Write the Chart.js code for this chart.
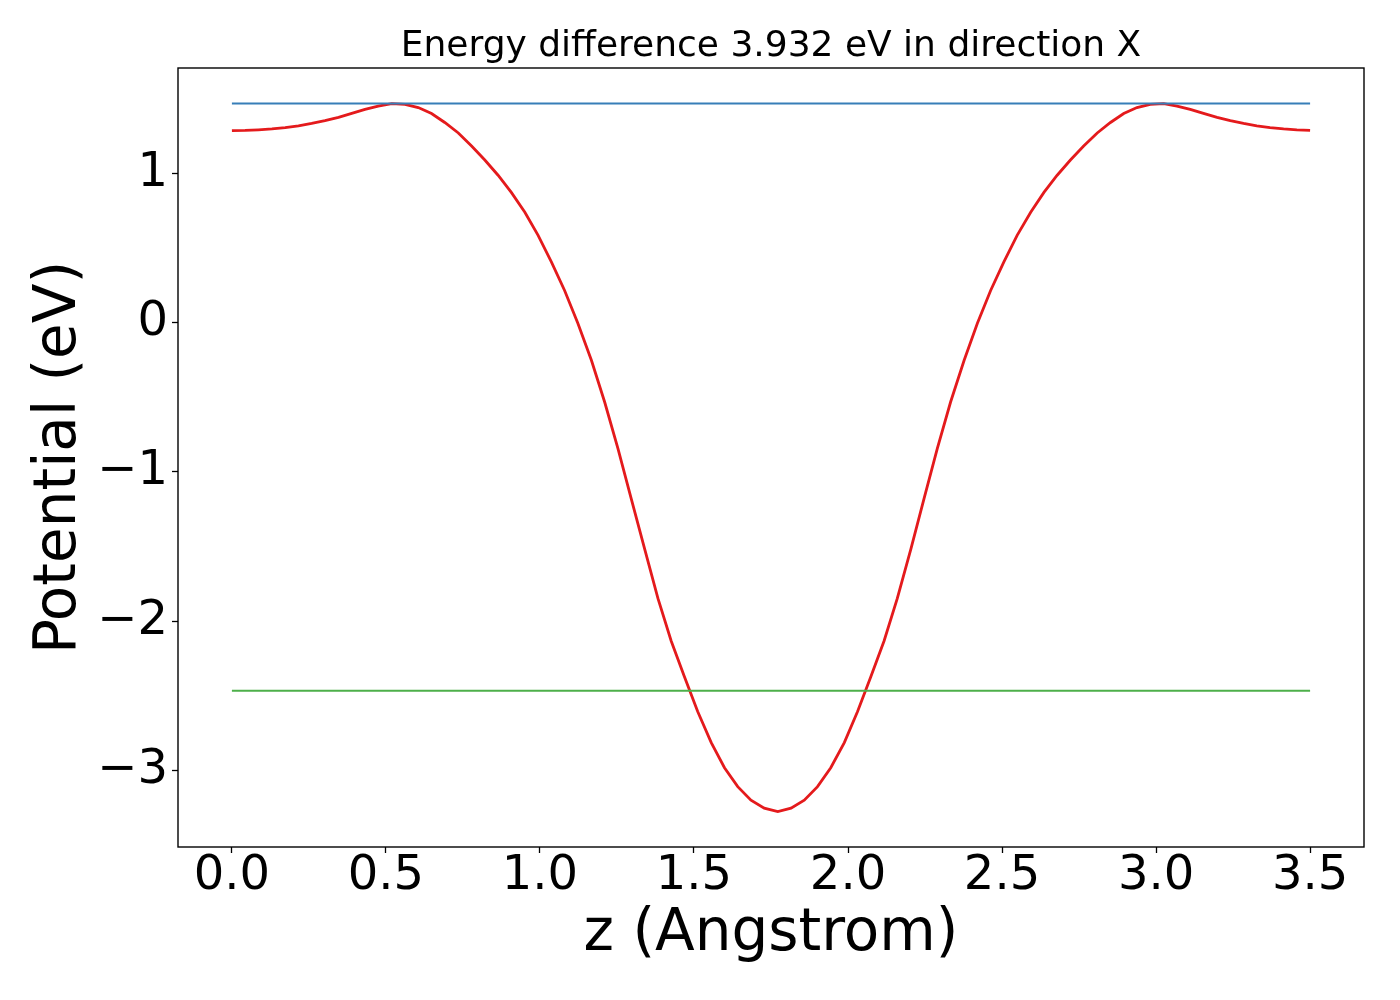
<!DOCTYPE html>
<html>
<head>
<meta charset="utf-8">
<script src="https://cdn.jsdelivr.net/npm/chart.js@4.4.0/dist/chart.umd.min.js"></script>
<style>
  body { margin: 0; background: #fff; }
  canvas { display: block; }
</style>
</head>
<body>
<canvas id="myChart" width="1400" height="1000"></canvas>
<script>
// positions along z (Angstrom)
const z = [
  0.000, 0.043, 0.086, 0.130, 0.173, 0.216, 0.259, 0.302, 0.346, 0.389,
  0.432, 0.475, 0.519, 0.562, 0.605, 0.648, 0.691, 0.735, 0.778, 0.821,
  0.864, 0.907, 0.951, 0.994, 1.037, 1.080, 1.123, 1.167, 1.210, 1.253,
  1.296, 1.340, 1.383, 1.426, 1.469, 1.512, 1.556, 1.599, 1.642, 1.685,
  1.728, 1.772, 1.815, 1.858, 1.901, 1.944, 1.988, 2.031, 2.074, 2.117,
  2.160, 2.204, 2.247, 2.290, 2.333, 2.377, 2.420, 2.463, 2.506, 2.549,
  2.593, 2.636, 2.679, 2.722, 2.765, 2.809, 2.852, 2.895, 2.938, 2.981,
  3.025, 3.068, 3.111, 3.154, 3.198, 3.241, 3.284, 3.327, 3.370, 3.414,
  3.457, 3.500
];
// potential (eV)
const potential = [
  1.284, 1.286, 1.290, 1.296, 1.305, 1.317, 1.333, 1.352, 1.374, 1.400,
  1.427, 1.449, 1.466, 1.461, 1.439, 1.399, 1.339, 1.269, 1.181, 1.088,
  0.986, 0.871, 0.738, 0.583, 0.405, 0.214, -0.006, -0.253, -0.533, -0.843,
  -1.178, -1.518, -1.848, -2.133, -2.373, -2.606, -2.814, -2.982, -3.109, -3.199,
  -3.253, -3.276, -3.253, -3.199, -3.109, -2.982, -2.814, -2.606, -2.373, -2.133,
  -1.848, -1.518, -1.178, -0.843, -0.533, -0.253, -0.006, 0.214, 0.405, 0.583,
  0.738, 0.871, 0.986, 1.088, 1.181, 1.269, 1.339, 1.399, 1.439, 1.461,
  1.466, 1.449, 1.427, 1.400, 1.374, 1.352, 1.333, 1.317, 1.305, 1.296,
  1.290, 1.286
];
// the two reference levels (eV)
const levelTop = 1.466;
const levelBottom = -2.466;
const levelSpan = [0.0, 3.5];

const xTicks = [0.0, 0.5, 1.0, 1.5, 2.0, 2.5, 3.0, 3.5];
const yTicks = [-3, -2, -1, 0, 1];
const xRange = [-0.175, 3.675];
const yRange = [-3.513, 1.704];

const titleText = 'Energy difference 3.932 eV in direction X';
const xLabel = 'z (Angstrom)';
const yLabel = 'Potential (eV)';

const FONT = "'DejaVu Sans', 'Liberation Sans', sans-serif";

/**
 * box around the plot area, like matplotlib spines
 */
const framePlugin = {
  id: 'frame',
  afterDatasetsDraw(chart) {
    const a = chart.chartArea;
    const c = chart.ctx;
    c.save();
    c.strokeStyle = '#000';
    c.lineWidth = 1.4;
    c.strokeRect(a.left, a.top, a.right - a.left, a.bottom - a.top);
    c.restore();
  }
};

function levelLine(y) {
  return levelSpan.map(x => ({x: x, y: y}));
}

function fmtY(v) {
  return v < 0 ? '\u2212' + Math.abs(v) : String(v);
}

function generate_config() {
  return {
    type: 'scatter',
    data: {
      datasets: [
        {
          data: levelLine(levelTop),
          showLine: true,
          borderColor: '#377eb8',
          borderWidth: 2,
          pointRadius: 0,
          order: 0
        },
        {
          data: levelLine(levelBottom),
          showLine: true,
          borderColor: '#4daf4a',
          borderWidth: 2,
          pointRadius: 0,
          order: 0
        },
        {
          data: z.map((x, i) => ({x: x, y: potential[i]})),
          showLine: true,
          borderColor: '#e41a1c',
          borderWidth: 2.8,
          pointRadius: 0,
          tension: 0,
          order: 1
        }
      ]
    },
    options: {
      responsive: false,
      animation: false,
      devicePixelRatio: 1,
      layout: { padding: { left: 0, right: 36, top: 0, bottom: 0 } },
      plugins: {
        legend: { display: false },
        tooltip: { enabled: false },
        title: {
          display: true,
          text: titleText,
          fullSize: false,
          color: '#000',
          font: { family: FONT, size: 36, weight: 'normal', lineHeight: 1 },
          padding: { top: 29, bottom: 3 }
        }
      },
      scales: {
        x: {
          type: 'linear',
          min: xRange[0],
          max: xRange[1],
          afterBuildTicks: s => { s.ticks = xTicks.map(v => ({value: v})); },
          afterFit: s => { s.height = 153; },
          border: { display: false },
          grid: { drawOnChartArea: false, drawTicks: true, tickLength: 6, tickColor: '#000', tickWidth: 1.3 },
          ticks: {
            color: '#000',
            padding: 0,
            maxRotation: 0,
            font: { family: FONT, size: 48, lineHeight: 1 },
            callback: v => v.toFixed(1)
          },
          title: {
            display: true,
            text: xLabel,
            color: '#000',
            font: { family: FONT, size: 58, lineHeight: 1 },
            padding: { top: 0, bottom: 36 }
          }
        },
        y: {
          type: 'linear',
          min: yRange[0],
          max: yRange[1],
          afterBuildTicks: s => { s.ticks = yTicks.map(v => ({value: v})); },
          afterFit: s => { s.width = 178; },
          border: { display: false },
          grid: { drawOnChartArea: false, drawTicks: true, tickLength: 6, tickColor: '#000', tickWidth: 1.3 },
          ticks: {
            color: '#000',
            padding: 4,
            font: { family: FONT, size: 48, lineHeight: 1 },
            callback: v => fmtY(v)
          },
          title: {
            display: true,
            text: yLabel,
            color: '#000',
            font: { family: FONT, size: 58, lineHeight: 1 },
            padding: { top: 31, bottom: 0 }
          }
        }
      }
    },
    plugins: [framePlugin]
  };
}

const canvas = document.getElementById('myChart');
const ctx = canvas.getContext('2d');
const myChart = new Chart(ctx, generate_config());
</script>
</body>
</html>
